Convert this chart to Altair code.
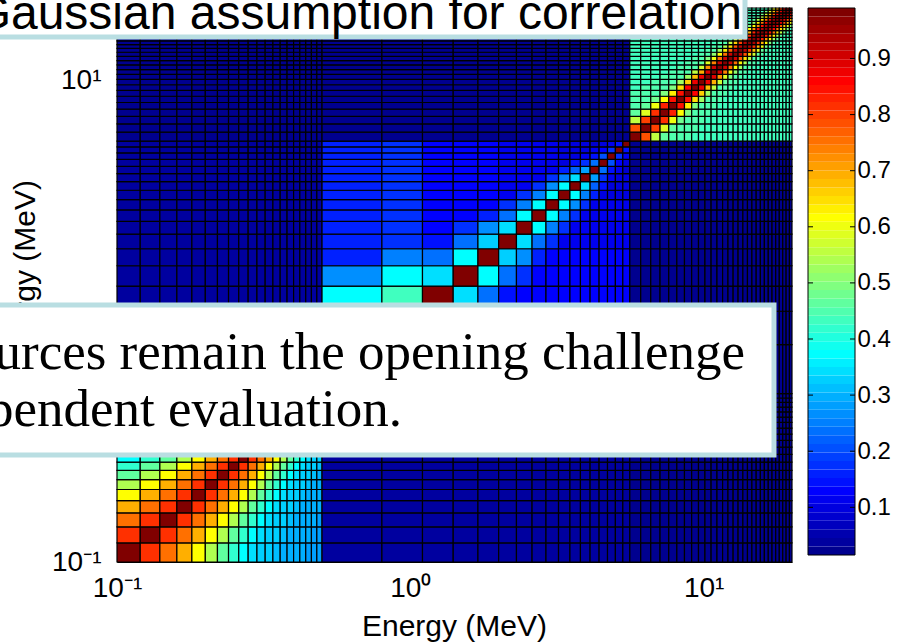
import altair as alt
import pandas as pd

# ---------------- data ----------------
LOW_EDGES = [0.10, 0.12, 0.14, 0.16, 0.18, 0.20, 0.22, 0.24, 0.26, 0.28, 0.30,
             0.32, 0.34, 0.36, 0.38, 0.40, 0.42, 0.44, 0.46, 0.48, 0.50]
MID_EDGES = [0.5, 0.8, 1.1, 1.4, 1.7, 2.0, 2.3, 2.6, 2.9, 3.2, 3.5, 3.8, 4.1,
             4.4, 4.7, 5.0, 5.3, 5.6]
HIGH_EDGES = [5.6, 6.1, 6.6, 7.1, 7.6, 8.1, 8.6, 9.1, 9.6, 10.1, 10.6, 11.1,
              11.6, 12.1, 12.6, 13.1, 13.6, 14.1, 14.6, 15.1, 15.6, 16.1, 16.6,
              17.1, 17.6, 18.1, 18.6, 19.1, 19.6, 20.0]

# low-energy block: correlation by bin lag
LOW_LAG = [1.00, 0.81, 0.76, 0.69, 0.61, 0.54, 0.47, 0.42, 0.38, 0.35, 0.33,
           0.32, 0.31, 0.30, 0.30, 0.29, 0.29, 0.28, 0.28, 0.28]

# mid-energy block: near-diagonal bands (index = lower bin) and far values
MID_BAND1 = [0.45, 0.43, 0.34, 0.37, 0.33, 0.34, 0.37, 0.37, 0.37, 0.38, 0.35,
             0.28, 0.24, 0.20, 0.17, 0.15]
MID_BAND2 = [0.37, 0.37, 0.23, 0.24, 0.27, 0.24, 0.25, 0.25, 0.26, 0.25, 0.22,
             0.18, 0.15, 0.13, 0.12]
MID_BAND3 = [0.27, 0.25, 0.14, 0.18, 0.16, 0.17, 0.18, 0.18, 0.17, 0.16, 0.14,
             0.12, 0.11, 0.10]
MID_FAR = [0.16, 0.17, 0.13, 0.13, 0.13, 0.12, 0.12, 0.11, 0.11, 0.10, 0.10,
           0.10, 0.09, 0.09, 0.09, 0.09, 0.09]

# high-energy block: near-diagonal bands (index = lower bin) and background
HIGH_BAND1 = [0.78, 0.80, 0.82, 0.83, 0.84, 0.85, 0.86, 0.87, 0.88, 0.89, 0.90,
              0.90, 0.91, 0.91, 0.92, 0.92, 0.93, 0.93, 0.93, 0.94, 0.94, 0.94,
              0.95, 0.95, 0.95, 0.95, 0.96, 0.96]
HIGH_BAND2 = [0.56, 0.58, 0.60, 0.62, 0.63, 0.65, 0.66, 0.68, 0.70, 0.72, 0.74,
              0.75, 0.76, 0.77, 0.79, 0.80, 0.81, 0.82, 0.83, 0.84, 0.85, 0.86,
              0.87, 0.88, 0.88, 0.89, 0.90]
HIGH_BAND3 = [0.46, 0.47, 0.48, 0.49, 0.50, 0.52, 0.53, 0.55, 0.57, 0.58, 0.60,
              0.62, 0.63, 0.65, 0.66, 0.68, 0.69, 0.70, 0.72, 0.73, 0.75, 0.76,
              0.77, 0.78, 0.79, 0.80]
HIGH_BAND4 = [0.45, 0.45, 0.45, 0.45, 0.45, 0.45, 0.45, 0.45, 0.47, 0.49, 0.51,
              0.53, 0.54, 0.56, 0.57, 0.58, 0.60, 0.61, 0.62, 0.63, 0.64, 0.65,
              0.66, 0.68, 0.69]
HIGH_BAND5 = [0.45, 0.45, 0.45, 0.45, 0.45, 0.45, 0.45, 0.45, 0.45, 0.45, 0.45,
              0.45, 0.45, 0.45, 0.46, 0.47, 0.48, 0.50, 0.52, 0.54, 0.56, 0.57,
              0.59, 0.60]
HIGH_BAND6 = [0.45] * 18 + [0.46, 0.47, 0.48, 0.49, 0.50]
HIGH_BG = 0.44

OFF_LOW_MID = 0.04
OFF_LOW_HIGH = 0.02
OFF_MID_HIGH = 0.03

CBAR_TICKS = [0.1, 0.2, 0.3, 0.4, 0.5, 0.6, 0.7, 0.8, 0.9]
CBAR_MIN, CBAR_MAX = 0.015, 0.99

TITLE_TEXT = "Gaussian assumption for correlation"
NOTE_LINE1 = "urces remain the opening challenge"
NOTE_LINE2 = "pendent evaluation."

# ---------------- build table ----------------
blocks = [("low", LOW_EDGES), ("mid", MID_EDGES), ("high", HIGH_EDGES)]
bins = []
for name, edges in blocks:
    for i in range(len(edges) - 1):
        bins.append((name, i, edges[i], edges[i + 1]))

OFF = {frozenset(["low", "mid"]): OFF_LOW_MID,
       frozenset(["low", "high"]): OFF_LOW_HIGH,
       frozenset(["mid", "high"]): OFF_MID_HIGH}
MID_BANDS = [None, MID_BAND1, MID_BAND2, MID_BAND3]
HIGH_BANDS = [None, HIGH_BAND1, HIGH_BAND2, HIGH_BAND3, HIGH_BAND4,
              HIGH_BAND5, HIGH_BAND6]


def corr(a, b):
    if a[0] != b[0]:
        return OFF[frozenset([a[0], b[0]])]
    k = abs(a[1] - b[1])
    lo = min(a[1], b[1])
    if k == 0:
        return 1.0
    if a[0] == "low":
        return LOW_LAG[k]
    if a[0] == "mid":
        return MID_BANDS[k][lo] if k < len(MID_BANDS) else MID_FAR[lo]
    return HIGH_BANDS[k][lo] if k < len(HIGH_BANDS) else HIGH_BG


rows = []
for bx in bins:
    for by in bins:
        rows.append({"x0": bx[2], "x1": bx[3], "y0": by[2], "y1": by[3],
                     "c": corr(bx, by)})
cells = pd.DataFrame(rows)


# MATLAB jet(64) colormap
def matlab_jet(n=64):
    m = -(-n // 4)
    u = [k / m for k in range(1, m + 1)] + [1.0] * (m - 1) + \
        [k / m for k in range(m, 0, -1)]
    gs = -(-m // 2) - (1 if n % 4 == 1 else 0)
    g = [gs + k for k in range(1, len(u) + 1)]
    r = [x + m for x in g if x + m <= n]
    b = [x - m for x in g if x - m >= 1]
    J = [[0.0, 0.0, 0.0] for _ in range(n)]
    for i, row in enumerate(r):
        J[row - 1][0] = u[i]
    for i, row in enumerate(g):
        if row <= n:
            J[row - 1][1] = u[i]
    for i, row in enumerate(b):
        J[row - 1][2] = u[len(u) - len(b) + i]
    return ["#%02x%02x%02x" % tuple(int(round(v * 255)) for v in c) for c in J]


JET = matlab_jet(64)
step = (CBAR_MAX - CBAR_MIN) / 64
bands = pd.DataFrame({
    "v0": [CBAR_MIN + k * step for k in range(64)],
    "v1": [CBAR_MIN + (k + 1) * step for k in range(64)],
    "vm": [CBAR_MIN + (k + 0.5) * step for k in range(64)],
})

color_scale = alt.Scale(type="quantize", domain=[CBAR_MIN, CBAR_MAX], range=JET)

AX_FONT = "Liberation Sans"
W, H = 675, 554
CB_X0, CB_X1 = 691, 738
CB_H = 547

label_expr = ("datum.value < 0.5 ? '10\u207b\u00b9' : "
              "(datum.value < 5 ? '10\u2070' : '10\u00b9')")

heat = alt.Chart(cells).mark_rect(stroke="black", strokeWidth=1.2).encode(
    x=alt.X("x0:Q", scale=alt.Scale(type="log", domain=[0.1, 20]),
            axis=alt.Axis(values=[0.1, 1, 10], labelExpr=label_expr,
                          title="Energy (MeV)", labelFont=AX_FONT,
                          labelFontSize=28, labelColor="black",
                          labelPadding=12, ticks=False, grid=False,
                          domainColor="black", labelFlush=False,
                          labelOverlap=False,
                          titleFont=AX_FONT, titleFontSize=30,
                          titleFontWeight="normal", titleColor="black",
                          titleX=337, titleY=64, titleBaseline="middle")),
    x2="x1:Q",
    y=alt.Y("y0:Q", scale=alt.Scale(type="log", domain=[0.1, 20]),
            axis=alt.Axis(values=[0.1, 1, 10], labelExpr=label_expr,
                          title="Energy (MeV)", labelFont=AX_FONT,
                          labelFontSize=28, labelColor="black",
                          labelPadding=16, ticks=False, grid=False,
                          domainColor="black", labelFlush=False,
                          labelOverlap=False,
                          titleFont=AX_FONT, titleFontSize=30,
                          titleFontWeight="normal", titleColor="black",
                          titleAngle=270, titleX=-92, titleY=264,
                          titleBaseline="middle", titleAlign="center")),
    y2="y1:Q",
    color=alt.Color("c:Q", scale=color_scale, legend=None),
)

cb_y = alt.Scale(domain=[CBAR_MIN, CBAR_MAX], range=[CB_H, 0])

cbar = alt.Chart(bands).mark_rect().encode(
    x=alt.value(CB_X0), x2=alt.value(CB_X1),
    y=alt.Y("v0:Q", scale=cb_y,
            axis=alt.Axis(orient="right", offset=CB_X1 - W, values=CBAR_TICKS,
                          format=".1f", labelFont=AX_FONT, labelFontSize=24,
                          labelColor="black", labelPadding=2, ticks=False,
                          domain=False, grid=False, title=None)),
    y2="v1:Q",
    color=alt.Color("vm:Q", scale=color_scale, legend=None),
)

tick_df = pd.DataFrame({"t": CBAR_TICKS})
ticks_left = alt.Chart(tick_df).mark_rule(color="black", strokeWidth=1).encode(
    y=alt.Y("t:Q", scale=cb_y, axis=None),
    x=alt.value(CB_X0), x2=alt.value(CB_X0 + 5))
ticks_right = alt.Chart(tick_df).mark_rule(color="black", strokeWidth=1).encode(
    y=alt.Y("t:Q", scale=cb_y, axis=None),
    x=alt.value(CB_X1 - 5), x2=alt.value(CB_X1))

one = pd.DataFrame({"k": [0]})
cb_border = alt.Chart(one).mark_rect(fillOpacity=0, stroke="black",
                                     strokeWidth=1).encode(
    x=alt.value(CB_X0), x2=alt.value(CB_X1),
    y=alt.value(0), y2=alt.value(CB_H))

BOX_STROKE = "#b9dee2"
box1 = alt.Chart(one).mark_rect(fill="white", stroke=BOX_STROKE,
                                strokeWidth=5).encode(
    x=alt.value(-140), x2=alt.value(628), y=alt.value(-30), y2=alt.value(29))
txt1 = alt.Chart(pd.DataFrame({"t": [TITLE_TEXT]})).mark_text(
    align="right", baseline="alphabetic", font="Liberation Sans",
    fontSize=48, color="black").encode(
    x=alt.value(625), y=alt.value(21), text="t:N")

box2 = alt.Chart(one).mark_rect(fill="white", stroke=BOX_STROKE,
                                strokeWidth=5).encode(
    x=alt.value(-140), x2=alt.value(657), y=alt.value(297), y2=alt.value(447))
txt2a = alt.Chart(pd.DataFrame({"t": [NOTE_LINE1]})).mark_text(
    align="right", baseline="alphabetic", font="Liberation Serif",
    fontSize=53, color="black").encode(
    x=alt.value(628), y=alt.value(361), text="t:N")
txt2b = alt.Chart(pd.DataFrame({"t": [NOTE_LINE2]})).mark_text(
    align="right", baseline="alphabetic", font="Liberation Serif",
    fontSize=53, color="black").encode(
    x=alt.value(285), y=alt.value(418), text="t:N")

chart = alt.layer(
    heat, cbar, ticks_left, ticks_right, cb_border,
    box1, txt1, box2, txt2a, txt2b
).resolve_scale(y="independent").properties(
    width=W, height=H,
    autosize=alt.AutoSizeParams(type="none"),
    padding={"left": 117, "top": 8, "right": 116, "bottom": 82},
    background="white",
).configure_view(stroke=None)

chart.save("out.html", embed_options={"renderer": "svg", "actions": False})
